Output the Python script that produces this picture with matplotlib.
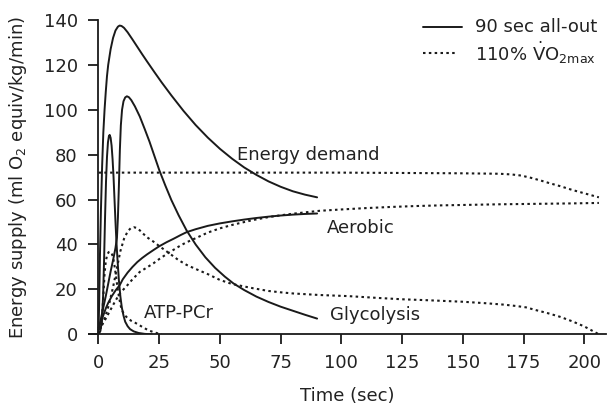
import matplotlib
matplotlib.use("Agg")
import matplotlib.pyplot as plt

plt.rcParams['font.family'] = ['DejaVu Sans']
plt.rcParams['mathtext.fontset'] = 'dejavusans'

# ---- 90 sec all-out (solid) ----
demand_solid_t = [0, 0.3, 0.6, 1, 1.5, 2, 2.5, 3, 3.5, 4, 5, 6, 7, 8, 8.7, 9.5, 10.5, 12, 14, 16, 18, 20, 23, 26, 30, 35, 40, 45, 50, 55, 60, 65, 70, 75, 80, 85, 90]
demand_solid_v = [0, 15, 35, 55, 75, 90, 100, 108, 115, 120, 127, 132, 135.3, 137, 137.5, 137.3, 136.5, 134.5, 131.3, 128, 124.7, 121.5, 116.8, 112.2, 106.4, 99.5, 93.2, 87.6, 82.6, 78.2, 74.3, 71, 68.1, 65.7, 63.7, 62.2, 61]

glyco_solid_t = [0, 1, 2, 3, 4, 5, 6, 7, 7.6, 8, 8.4, 8.8, 9.2, 9.7, 10.3, 11, 11.7, 12.5, 13.5, 15, 17, 19, 21, 23, 25, 27.5, 30, 33, 36.3, 40, 44, 48, 52, 55.5, 60, 65, 70, 75, 80, 85, 90]
glyco_solid_v = [2, 7, 12, 17, 22.5, 28, 33, 38.5, 43, 52, 66, 82, 93, 100, 103.8, 105.5, 106, 105.6, 104.3, 101.5, 97, 91.5, 85.8, 79.5, 73.2, 66.3, 59.8, 53, 46.2, 40, 34.3, 29.6, 25.7, 22.7, 19.7, 16.8, 14.4, 12.3, 10.5, 8.7, 7]

atp_solid_t = [0, 0.8, 1.4, 1.9, 2.3, 2.7, 3.1, 3.5, 3.9, 4.3, 4.6, 5, 5.4, 5.8, 6.2, 6.6, 7, 7.4, 7.9, 8.4, 9, 9.6, 10.3, 11, 12, 13, 14.5, 16.5, 19, 22]
atp_solid_v = [0, 1.5, 6, 17, 33, 52, 68, 79, 85.5, 88.3, 88.8, 87.5, 84, 78, 70, 60, 50, 41, 32, 24, 17, 12, 8.3, 5.6, 3.6, 2.3, 1.3, 0.6, 0.2, 0]

aerobic_solid_t = [0, 1, 2, 3, 4, 5.5, 7, 8.8, 10, 12, 14, 16, 18, 20, 22.6, 25, 28, 31, 34, 36.3, 40, 45, 50, 55, 60, 65, 70, 75, 80, 85, 90]
aerobic_solid_v = [3, 5.5, 8.5, 11.5, 14, 17, 19.5, 22, 24.5, 27.5, 30, 32.2, 34, 35.6, 37.5, 39.2, 41, 42.6, 44.3, 45.5, 46.8, 48.3, 49.4, 50.3, 51.1, 51.8, 52.4, 52.9, 53.3, 53.6, 53.8]

# ---- 110% VO2max (dotted) ----
demand_dot_t = [0, 50, 100, 150, 165, 170, 174, 178, 182, 186, 190, 195, 200, 206]
demand_dot_v = [72, 72, 72, 71.7, 71.5, 71.2, 70.7, 69.7, 68.5, 67.2, 66, 64.3, 62.8, 61]

glyco_dot_t = [0, 1.5, 3, 4.5, 6, 7.5, 9, 10.5, 12, 13.3, 14.5, 15.7, 17, 18.5, 20, 22.6, 25, 29.5, 33, 36.3, 40, 45, 50, 55, 60, 63.7, 70, 75, 80, 91, 103, 115, 125, 135, 150, 160, 167, 172, 176, 180, 185, 190, 195, 200, 206]
glyco_dot_v = [2, 4.5, 8.5, 14, 21, 29, 37, 42.5, 45.8, 47.3, 47.7, 47.4, 46.3, 44.7, 43.2, 41.3, 39.3, 35.8, 33, 30.9, 29.1, 26.8, 24.2, 22.4, 21.3, 20.5, 19.3, 18.7, 18.2, 17.5, 17, 16.2, 15.6, 15.2, 14.5, 13.8, 13.2, 12.6, 12, 10.8, 9.4, 7.8, 5.8, 3.5, 0]

atp_dot_t = [0, 0.8, 1.4, 2, 2.5, 3, 3.6, 4.2, 4.8, 5.4, 6, 6.6, 7.2, 7.8, 8.5, 9.2, 10, 11, 12, 13.5, 15, 16.5, 18, 19.5, 21, 22.6, 24.5, 26]
atp_dot_v = [0, 2, 6.4, 17, 27, 32.5, 35.5, 36.6, 36.8, 36.2, 34.3, 30.5, 26, 21, 16.2, 12.5, 10, 8.3, 7.2, 6, 5.2, 4.3, 3.3, 2.4, 1.6, 1, 0.4, 0]

aerobic_dot_t = [0, 1.4, 3, 5, 7, 9, 11.6, 14, 17, 20, 22.6, 25, 28, 31, 34, 36.3, 40, 45, 50, 55, 60, 63.7, 70, 75, 80, 85, 91, 100, 110, 120, 130, 140, 150, 165, 180, 195, 206]
aerobic_dot_v = [2, 4, 7, 11, 15, 18.5, 21.5, 24.5, 27.8, 29.8, 31.6, 33.5, 35.7, 37.7, 39.7, 41, 42.8, 45.3, 47.2, 48.7, 50, 50.9, 52.2, 53, 53.7, 54.3, 55, 55.6, 56.2, 56.7, 57.1, 57.4, 57.6, 57.9, 58.1, 58.3, 58.5]

x_ticks = [0, 25, 50, 75, 100, 125, 150, 175, 200]
y_ticks = [0, 20, 40, 60, 80, 100, 120, 140]

fig = plt.figure(figsize=(6.08, 4.07), dpi=100)
ax = fig.add_axes([0.146, 0.1786, 0.851, 0.7724])

col = '#1a1a1a'
tcol = '#222222'
fs = 13
solid_kw = dict(color=col, lw=1.4, solid_capstyle='round', solid_joinstyle='round')
dot_kw = dict(color=col, lw=1.5, linestyle=(0, (1.2, 1.6)))

ax.plot(demand_solid_t, demand_solid_v, **solid_kw)
ax.plot(glyco_solid_t, glyco_solid_v, **solid_kw)
ax.plot(atp_solid_t, atp_solid_v, **solid_kw)
ax.plot(aerobic_solid_t, aerobic_solid_v, **solid_kw)

ax.plot(demand_dot_t, demand_dot_v, **dot_kw)
ax.plot(glyco_dot_t, glyco_dot_v, **dot_kw)
ax.plot(atp_dot_t, atp_dot_v, **dot_kw)
ax.plot(aerobic_dot_t, aerobic_dot_v, **dot_kw)

ax.set_xlim(-4, 209)
ax.set_ylim(0, 140)
ax.spines['left'].set_position(('data', 0))
ax.spines['left'].set_bounds(0, 140)
ax.spines['top'].set_visible(False)
ax.spines['right'].set_visible(False)
for s in ('left', 'bottom'):
    ax.spines[s].set_linewidth(1.3)
    ax.spines[s].set_color(col)

ax.set_xticks(x_ticks)
ax.set_yticks(y_ticks)
ax.tick_params(axis='both', direction='out', length=7, width=1.3, color=col,
               labelsize=fs, labelcolor=tcol)
ax.tick_params(axis='x', pad=7)
ax.tick_params(axis='y', pad=8)

ax.set_xlabel('Time (sec)', fontsize=fs, color=tcol, labelpad=11)
ax.set_ylabel('Energy supply (ml O$_2$ equiv/kg/min)', fontsize=13, color=tcol)
ax.yaxis.set_label_coords(-0.115, 0.5)

ax.text(57, 80, 'Energy demand', fontsize=fs, color=tcol, va='center', ha='left')
ax.text(94.2, 47.3, 'Aerobic', fontsize=fs, color=tcol, va='center', ha='left')
ax.text(18.5, 9.5, 'ATP-PCr', fontsize=fs, color=tcol, va='center', ha='left')
ax.text(95.3, 8.6, 'Glycolysis', fontsize=fs, color=tcol, va='center', ha='left')

# legend
lx0, lx1, tx = 133.5, 149.6, 155
ax.plot([lx0, lx1], [137, 137], **solid_kw, clip_on=False)
ax.text(tx, 137, '90 sec all-out', fontsize=fs, color=tcol, va='center', ha='left')
ax.plot([lx0, lx1 - 1.5], [125.3, 125.3], **dot_kw, clip_on=False)
ax.text(tx, 125.3, r'110% $\dot{\mathrm{V}}\mathrm{O}_{2\mathrm{max}}$', fontsize=fs, color=tcol, va='center', ha='left')

fig.savefig('out.png', dpi=100)
